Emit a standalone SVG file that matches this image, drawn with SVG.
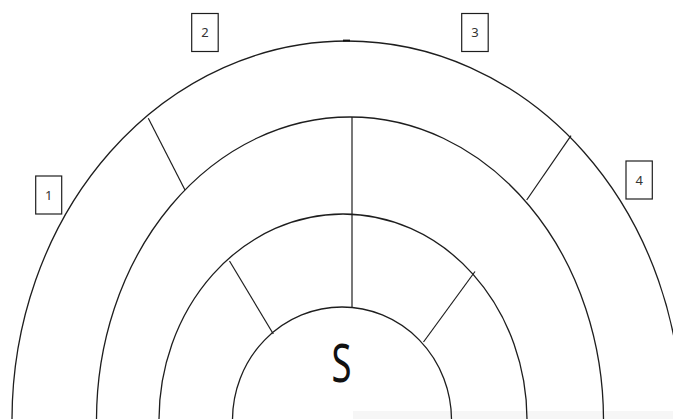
<svg xmlns="http://www.w3.org/2000/svg" width="673" height="419" viewBox="0 0 673 419">
  <style>
    .ring { fill: none; stroke: #1e1e1e; stroke-width: 1.3; }
    .conn { fill: none; stroke: #1e1e1e; stroke-width: 1.2; }
    .box { fill: #ffffff; stroke: #1e1e1e; stroke-width: 1.2; }
    .num { font-family: "Noto Sans", "DejaVu Sans", sans-serif; font-size: 13px; fill: #333333; text-anchor: middle; }
    .big { font-family: "Noto Sans", "DejaVu Sans", sans-serif; font-size: 52px; fill: #111111; }
  </style>
  <rect x="0" y="0" width="673" height="419" fill="#ffffff"/>
  <rect x="353" y="411" width="320" height="8" fill="#f6f6f6"/>

  <g id="ring1">
    <path class="ring" d="M 12 420 A 335 379 0 0 1 682 420"/>
    <line x1="343" y1="40.6" x2="350" y2="40.6" stroke="#111" stroke-width="2"/>
  </g>
  <g id="ring2">
    <path class="ring" d="M 96.5 420 A 253.5 303 0 0 1 603.5 420"/>
  </g>
  <g id="ring3">
    <path class="ring" d="M 159 420 A 184 206 0 0 1 527 420"/>
  </g>
  <g id="ring4">
    <path class="ring" d="M 232.5 420 A 109.5 113 0 0 1 451.5 420"/>
  </g>

  <g id="connectors">
    <line class="conn" x1="148.3" y1="118.3" x2="185" y2="190"/>
    <line class="conn" x1="571" y1="135.7" x2="526.7" y2="200"/>
    <line class="conn" x1="352" y1="117" x2="352" y2="307.5"/>
    <line class="conn" x1="229.5" y1="261" x2="273.3" y2="334"/>
    <line class="conn" x1="475" y1="271.5" x2="423.5" y2="342"/>
  </g>

  <g id="box1">
    <rect class="box" x="35.7" y="176" width="26" height="38"/>
    <text class="num" x="48.7" y="200">1</text>
  </g>
  <g id="box2">
    <rect class="box" x="191.7" y="13.5" width="26.5" height="38"/>
    <text class="num" x="205" y="37">2</text>
  </g>
  <g id="box3">
    <rect class="box" x="461.7" y="13.5" width="26.5" height="38"/>
    <text class="num" x="475" y="37">3</text>
  </g>
  <g id="box4">
    <rect class="box" x="626" y="161" width="26.3" height="38"/>
    <text class="num" x="639.2" y="185">4</text>
  </g>

  <g id="source">
    <text class="big" x="331.5" y="381.5" textLength="20" lengthAdjust="spacingAndGlyphs">S</text>
  </g>
</svg>
